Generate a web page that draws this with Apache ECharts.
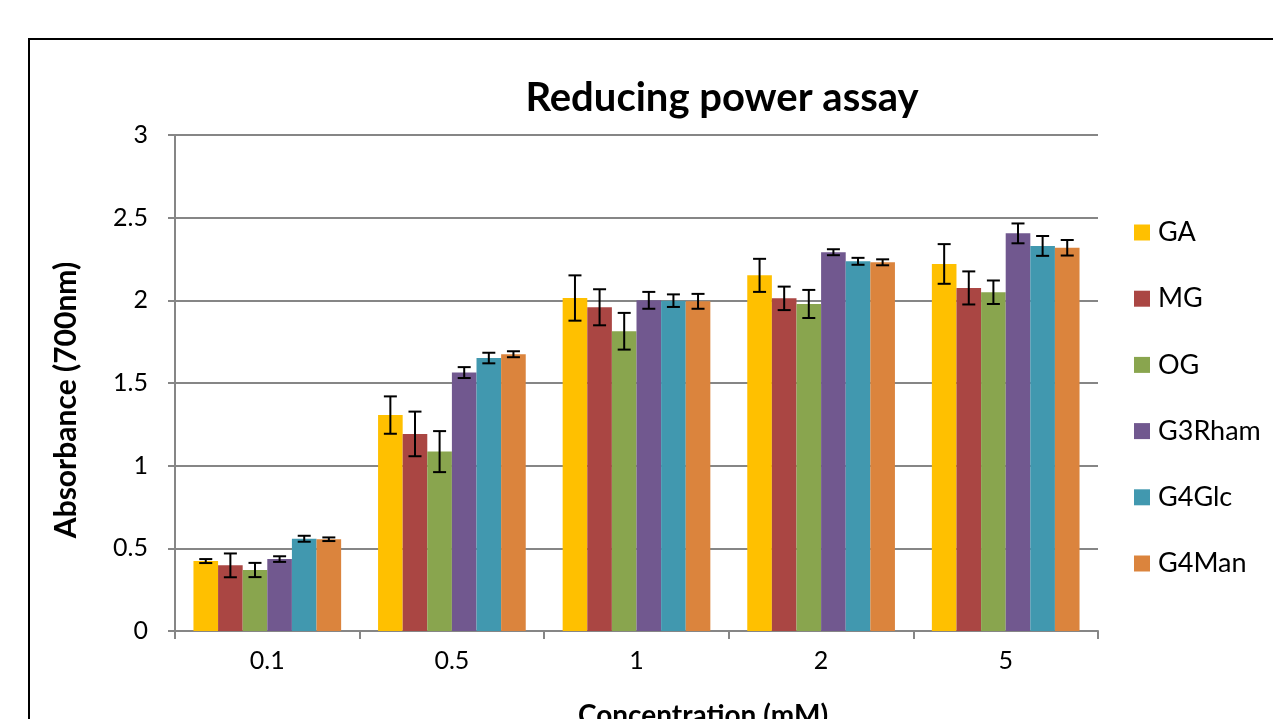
<!DOCTYPE html>
<html>
<head>
<meta charset="utf-8">
<script src="https://cdn.jsdelivr.net/npm/echarts@6/dist/echarts.min.js"></script>
<style>html,body{margin:0;padding:0;background:#fff}#c{width:1273px;height:719px}</style>
</head>
<body>
<div id="c"></div>
<script>
const categories = ['0.1', '0.5', '1', '2', '5'];
const seriesNames = ['GA', 'MG', 'OG', 'G3Rham', 'G4Glc', 'G4Man'];
const colors = ['#FFC000', '#AA4643', '#89A54E', '#71588F', '#4198AF', '#DB843D'];
const GA     = [0.423, 1.306, 2.014, 2.151, 2.220];
const MG     = [0.397, 1.192, 1.958, 2.012, 2.075];
const OG     = [0.369, 1.085, 1.813, 1.978, 2.049];
const G3Rham = [0.435, 1.563, 2.000, 2.291, 2.405];
const G4Glc  = [0.558, 1.651, 1.998, 2.236, 2.329];
const G4Man  = [0.555, 1.674, 1.994, 2.230, 2.318];
const GA_err     = [0.012, 0.113, 0.137, 0.100, 0.120];
const MG_err     = [0.072, 0.135, 0.109, 0.071, 0.100];
const OG_err     = [0.043, 0.124, 0.111, 0.085, 0.071];
const G3Rham_err = [0.017, 0.033, 0.051, 0.018, 0.060];
const G4Glc_err  = [0.018, 0.032, 0.038, 0.021, 0.060];
const G4Man_err  = [0.011, 0.018, 0.045, 0.018, 0.047];
const yTicks = [0, 0.5, 1, 1.5, 2, 2.5, 3];

const values = [GA, MG, OG, G3Rham, G4Glc, G4Man];
const errs = [GA_err, MG_err, OG_err, G3Rham_err, G4Glc_err, G4Man_err];
const FONT = 'Lato, "Open Sans", sans-serif';
const GAP = 0.2;

const errData = [];
values.forEach((vals, s) => vals.forEach((v, c) => errData.push([c, s, v, errs[s][c]])));

const chart = echarts.init(document.getElementById('c'));
const series = seriesNames.map((n, i) => ({
  name: n, type: 'bar', data: values[i], barGap: '0%', barCategoryGap: (GAP * 100) + '%',
  itemStyle: { color: colors[i] }, emphasis: { disabled: true }
}));
series.push({
  type: 'custom', name: 'err', z: 10, silent: true,
  encode: { x: 0, y: 2 },
  data: errData,
  renderItem: function (params, api) {
    const c = api.value(0), s = api.value(1), v = api.value(2), e = api.value(3);
    const band = api.size([1, 0])[0];
    const bw = band * (1 - GAP) / 6;
    const center = api.coord([c, 0])[0];
    const x = center - band * (1 - GAP) / 2 + bw * (s + 0.5);
    const yHi = api.coord([c, v + e])[1];
    const yLo = api.coord([c, v - e])[1];
    const hw = 6.5;
    const st = { stroke: '#000', lineWidth: 2 };
    return { type: 'group', children: [
      { type: 'line', shape: { x1: x, y1: yHi, x2: x, y2: yLo }, style: st },
      { type: 'line', shape: { x1: x - hw, y1: yHi, x2: x + hw, y2: yHi }, style: st },
      { type: 'line', shape: { x1: x - hw, y1: yLo, x2: x + hw, y2: yLo }, style: st }
    ]};
  }
});

chart.setOption({
  animation: false,
  textStyle: { fontFamily: FONT },
  grid: { left: 175, right: 175, top: 135, bottom: 88, containLabel: false, outerBoundsMode: 'none' },
  legend: {
    data: seriesNames, orient: 'vertical', left: 1129, top: 214,
    itemWidth: 16, itemHeight: 16, itemGap: 39.2, icon: 'rect',
    textStyle: { fontSize: 27, color: '#000', fontFamily: FONT, padding: [0, 0, 0, 3] }
  },
  graphic: [
    { type: 'rect', shape: { x: 29, y: 39, width: 1400, height: 800 }, style: { fill: 'none', stroke: '#000', lineWidth: 2 }, z: 100, silent: true },
    { type: 'text', x: 722, y: 98, style: { text: 'Reducing power assay', font: 'bold 40px ' + FONT, fill: '#000', align: 'center', verticalAlign: 'middle' } },
    { type: 'text', x: 66, y: 400, rotation: Math.PI / 2, style: { text: 'Absorbance (700nm)', font: 'bold 30px ' + FONT, fill: '#000', align: 'center', verticalAlign: 'middle' } },
    { type: 'text', x: 703, y: 716, style: { text: 'Concentration (mM)', font: 'bold 28px ' + FONT, fill: '#000', align: 'center', verticalAlign: 'middle' } }
  ],
  xAxis: {
    type: 'category', data: categories,
    axisLine: { lineStyle: { color: '#868686', width: 2 } },
    axisTick: { show: true, alignWithLabel: false, length: 8, lineStyle: { color: '#868686', width: 2 } },
    axisLabel: { fontSize: 25, color: '#000', margin: 30, fontFamily: FONT, verticalAlign: 'middle' }
  },
  yAxis: {
    type: 'value', min: 0, max: 3, interval: 0.5,
    axisLine: { show: true, lineStyle: { color: '#868686', width: 2 } },
    axisTick: { show: true, length: 7, lineStyle: { color: '#868686', width: 2 } },
    axisLabel: { fontSize: 25, color: '#000', margin: 27, fontFamily: FONT },
    splitLine: { lineStyle: { color: '#868686', width: 2 } }
  },
  series: series
});
</script>
</body>
</html>
